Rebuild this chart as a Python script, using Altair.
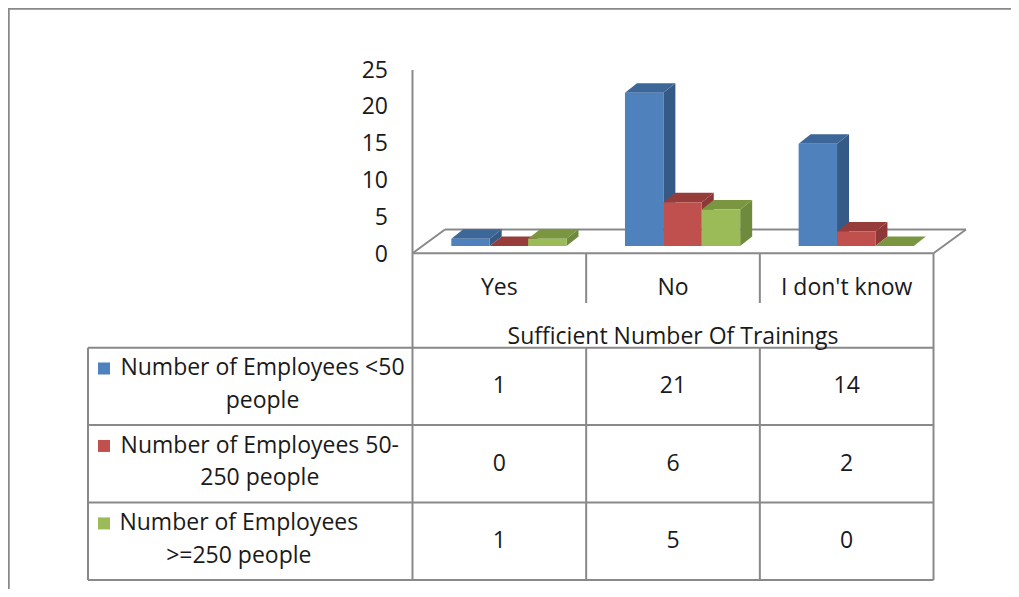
import altair as alt
import pandas as pd

# ---------------- data ----------------
categories = ["Yes", "No", "I don't know"]
series = [
    "Number of Employees <50 people",
    "Number of Employees 50-250 people",
    "Number of Employees >=250 people",
]
series_lines = [
    ["Number of Employees <50", "people"],
    ["Number of Employees 50-", "250 people"],
    ["Number of Employees", ">=250 people"],
]
values_lt50 = [1, 21, 14]
values_50_250 = [0, 6, 2]
values_ge250 = [1, 5, 0]
y_ticks = [0, 5, 10, 15, 20, 25]
x_title = "Sufficient Number Of Trainings"

# ---------------- styles / layout ----------------
FONT = "Open Sans"
FS = 23
TXT = "#1a1a1a"
GRID = "#898989"
front_colors = ["#4F81BD", "#C0504D", "#9BBB59"]
side_colors = ["#365A86", "#8C3836", "#6E8A3C"]
top_colors = ["#3D6699", "#963C3A", "#7A9640"]

W, H = 1003, 581
COL_L, COL_W = 404.5, 173.67
COL_R = COL_L + 3 * COL_W
BASE, PPU = 238.0, 7.3          # bar baseline (px) and px per unit
BAR_OFF, BAR_W = 38.8, 38.4
DX, DY = 12.0, 9.5              # 3-D depth offsets (px)
DXU, DYU = DX / COL_W, DY / PPU
FLOOR_F, FLOOR_B, FLOOR_SKEW = 245.3, 221.5, 32.5
ROW_Y = [378.3, 533.2]
SEP = [COL_L + COL_W, COL_L + 2 * COL_W]
HEAD_SEP_B = 295
ROW_LINES = [339.7, 417.0, 494.5, 572.0]
TBL_L = 80
LABEL_CX = [254.5, 251.8, 230.8]

xcol = alt.Scale(domain=[0, 3], range=[COL_L, COL_R])
yval = alt.Scale(domain=[0, 25], range=[BASE, BASE - 25 * PPU])
yaxis = alt.Scale(domain=[0, 25], range=[246.5, 62.5])
yrow = alt.Scale(domain=[0, 2], range=ROW_Y)

vals = [values_lt50, values_50_250, values_ge250]

front_rows, side_rows, top_rows, cell_rows = [], [], [], []
for s in range(3):
    for g in range(3):
        v = vals[s][g]
        xl = g + (BAR_OFF + BAR_W * s) / COL_W
        xr = xl + BAR_W / COL_W
        bid = f"{s}-{g}"
        front_rows.append(dict(series=series[s], xl=xl, xr=xr, v=v))
        side_rows += [
            dict(bid=bid, series=series[s], x=xr, y=0, y2=v),
            dict(bid=bid, series=series[s], x=xr + DXU, y=DYU, y2=v + DYU),
        ]
        top_rows += [
            dict(bid=bid, series=series[s], y=v, x=xl, x2=xr),
            dict(bid=bid, series=series[s], y=v + DYU, x=xl + DXU, x2=xr + DXU),
        ]
        cell_rows.append(dict(row=s, xc=g + 0.5, txt=str(v)))

front_df = pd.DataFrame(front_rows)
side_df = pd.DataFrame(side_rows)
top_df = pd.DataFrame(top_rows)
cell_df = pd.DataFrame(cell_rows)

# decoration segments (pixel layout)
segs = [
    (0, 0.5, W, 0.5, 2.5),            # outer frame top
    (0.5, 0, 0.5, H, 2.5),            # outer frame left
    (COL_L, 62, COL_L, FLOOR_F, 2),   # value axis line
    (COL_L, FLOOR_F, COL_R, FLOOR_F, 2),
    (COL_R, FLOOR_F, COL_R + FLOOR_SKEW, FLOOR_B, 2),
    (COL_R + FLOOR_SKEW, FLOOR_B, COL_L + FLOOR_SKEW, FLOOR_B, 2),
    (COL_L + FLOOR_SKEW, FLOOR_B, COL_L, FLOOR_F, 2),
    (COL_L, FLOOR_F, COL_L, ROW_LINES[-1], 2),
    (COL_R, FLOOR_F, COL_R, ROW_LINES[-1], 2),
    (TBL_L, ROW_LINES[0], TBL_L, ROW_LINES[-1], 2),
]
for sx in SEP:
    segs.append((sx, FLOOR_F, sx, HEAD_SEP_B, 2))
    segs.append((sx, ROW_LINES[0], sx, ROW_LINES[-1], 2))
for ry in ROW_LINES:
    segs.append((TBL_L, ry, COL_R, ry, 2))
seg_df = pd.DataFrame(segs, columns=["x1", "y1", "x2", "y2", "w"])

color_front = alt.Color("series:N", scale=alt.Scale(domain=series, range=front_colors), legend=None)
color_side = alt.Color("series:N", scale=alt.Scale(domain=series, range=side_colors), legend=None)
color_top = alt.Color("series:N", scale=alt.Scale(domain=series, range=top_colors), legend=None)


def X(f, sc):
    return alt.X(f, scale=sc, axis=None)


def Y(f, sc):
    return alt.Y(f, scale=sc, axis=None)


lines = alt.Chart(seg_df).mark_rule(color=GRID).encode(
    x=X("x1:Q", None), y=Y("y1:Q", None),
    x2="x2:Q", y2="y2:Q",
    strokeWidth=alt.StrokeWidth("w:Q", scale=None),
)

sides = alt.Chart(side_df).mark_area(orient="vertical").encode(
    x=X("x:Q", xcol), y=Y("y:Q", yval), y2="y2:Q",
    detail="bid:N", color=color_side,
)
tops = alt.Chart(top_df).mark_area(orient="horizontal").encode(
    y=Y("y:Q", yval), x=X("x:Q", xcol), x2="x2:Q",
    detail="bid:N", color=color_top,
)
fronts = alt.Chart(front_df).mark_rect().encode(
    x=X("xl:Q", xcol), x2="xr:Q",
    y=Y("v:Q", yval), y2=alt.Y2(datum=0),
    color=color_front,
)

tick_df = pd.DataFrame({"t": y_ticks})
ylabels = alt.Chart(tick_df).mark_text(
    font=FONT, fontSize=FS, color=TXT, align="right", baseline="middle"
).encode(x=alt.value(380), y=Y("t:Q", yaxis), text="t:Q")

head_df = pd.DataFrame({"cat": categories, "xc": [i + 0.5 for i in range(3)]})
heads = alt.Chart(head_df).mark_text(
    font=FONT, fontSize=FS, color=TXT, align="center", baseline="middle"
).encode(x=X("xc:Q", xcol), y=alt.value(280), text="cat:N")

title_df = pd.DataFrame({"t": [x_title], "xc": [1.5]})
title = alt.Chart(title_df).mark_text(
    font=FONT, fontSize=FS, color=TXT, align="center", baseline="middle"
).encode(x=X("xc:Q", xcol), y=alt.value(329), text="t:N")

cells = alt.Chart(cell_df).mark_text(
    font=FONT, fontSize=FS, color=TXT, align="center", baseline="middle"
).encode(x=X("xc:Q", xcol), y=Y("row:Q", yrow), text="txt:N")

lab_df = pd.DataFrame(
    [dict(row=i, cx=LABEL_CX[i], l1=series_lines[i][0], l2=series_lines[i][1], series=series[i])
     for i in range(3)]
)
lab1 = alt.Chart(lab_df).mark_text(
    font=FONT, fontSize=FS, color=TXT, align="center", baseline="middle", dy=-18
).encode(x=X("cx:Q", None), y=Y("row:Q", yrow), text="l1:N")
lab2 = alt.Chart(lab_df).mark_text(
    font=FONT, fontSize=FS, color=TXT, align="center", baseline="middle", dy=14.5
).encode(x=X("cx:Q", None), y=Y("row:Q", yrow), text="l2:N")
markers = alt.Chart(lab_df).mark_square(size=144, opacity=1, yOffset=-17.8).encode(
    x=alt.value(96), y=Y("row:Q", yrow), color=color_front,
)

chart = alt.layer(
    lines, sides, tops, fronts, ylabels, heads, title, cells, lab1, lab2, markers
).resolve_scale(
    x="independent", y="independent", color="independent"
).properties(
    width=W, height=H, padding=0,
    autosize=alt.AutoSizeParams(type="none"),
    background="white",
).configure_view(stroke=None)

chart.save("out.html", embed_options={"renderer": "svg", "actions": False})
